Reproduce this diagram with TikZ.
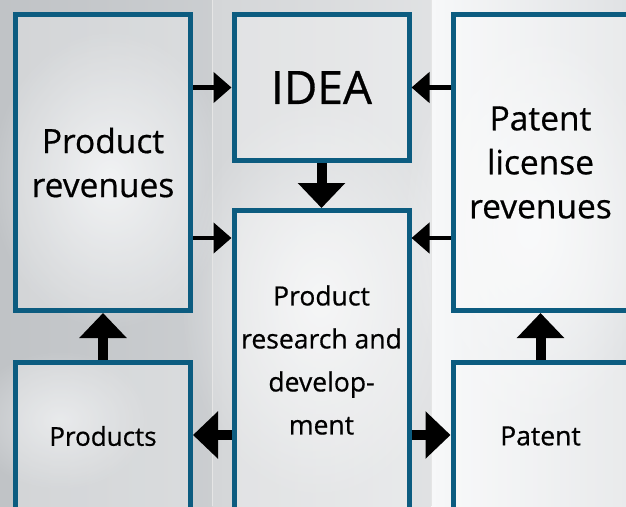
\documentclass[tikz,border=0pt]{standalone}
\usepackage{fontspec}
\setmainfont{Open Sans}[FakeBold=0.6]
\usetikzlibrary{arrows.meta,calc,fadings}
\tikzfading[name=soft spot, inner color=transparent!0, outer color=transparent!100]
\definecolor{frame}{RGB}{12,92,128}
\definecolor{panelA}{RGB}{192,195,198}
\definecolor{panelAl}{RGB}{236,238,240}
\definecolor{panelB}{RGB}{212,214,216}
\definecolor{panelBl}{RGB}{242,243,244}
\definecolor{panelC}{RGB}{224,226,228}
\definecolor{panelCl}{RGB}{247,248,249}
\begin{document}
\begin{tikzpicture}[x=1pt,y=-1pt,
  box/.style={draw=frame, line width=5pt, fill=white, fill opacity=0.3,
    text opacity=1, align=center, inner sep=0pt, minimum width=175pt},
  thin arrow/.style={line width=4.5pt, -{Triangle[width=30pt,length=18pt]}},
  thick arrow/.style={line width=10pt, -{Triangle[width=46pt,length=25pt]}},
]
\useasboundingbox (0,0) rectangle (626,506);
\begin{scope}
  \clip (0,0) rectangle (626,506);
  % three silvery background panels with soft highlights
  \shade[left color=panelA, right color=panelA!75!panelAl] (0,0) rectangle (212,506);
  \fill[panelAl, path fading=soft spot] (110,180) ellipse[x radius=120, y radius=150];
  \fill[panelAl, path fading=soft spot, opacity=0.7] (60,420) ellipse[x radius=90, y radius=70];
  \shade[left color=panelB, right color=panelB!60!panelBl] (212,0) rectangle (431,506);
  \fill[panelBl, path fading=soft spot] (320,300) ellipse[x radius=140, y radius=200];
  \shade[left color=panelCl, right color=panelC] (431,0) rectangle (626,506);
  \fill[panelCl, path fading=soft spot] (530,230) ellipse[x radius=130, y radius=200];
  \draw[white!80!gray, line width=0.6pt] (212,0) -- (212,506) (431,0) -- (431,506);

  % boxes
  \node[box, minimum height=296pt, font=\fontsize{33.5}{44}\selectfont] (pr) at (103,162.5) {Product\\revenues};
  \node[box, minimum height=146pt, font=\fontsize{46}{50}\selectfont] (idea) at (321.5,87.5) {IDEA};
  \node[box, minimum height=296pt, font=\fontsize{33.5}{44}\selectfont] (plr) at (540.5,162.5) {Patent\\license\\revenues};
  \node[box, minimum height=299pt, font=\fontsize{26.5}{43}\selectfont] (rd) at (321.5,360) {Product\\research and\\develop-\\ment};
  \node[box, minimum height=147pt, font=\fontsize{26}{30}\selectfont] (prods) at (103,436) {Products};
  \node[box, minimum height=147pt, font=\fontsize{26.5}{30}\selectfont] (pat) at (540.5,436) {Patent};

  % connectors
  \coordinate (r2) at (0,238);
  \coordinate (r3) at (0,435);
  \draw[thin arrow] (pr.east |- idea.west) -- (idea.west);
  \draw[thin arrow] (plr.west |- idea.east) -- (idea.east);
  \draw[thin arrow] (pr.east |- r2) -- (rd.west |- r2);
  \draw[thin arrow] (plr.west |- r2) -- (rd.east |- r2);
  \draw[thick arrow] (idea.south) -- (rd.north);
  \draw[thick arrow] (prods.north) -- (pr.south);
  \draw[thick arrow] (pat.north) -- (plr.south);
  \draw[thick arrow] (rd.west |- r3) -- (prods.east |- r3);
  \draw[thick arrow] (rd.east |- r3) -- (pat.west |- r3);
\end{scope}
\end{tikzpicture}
\end{document}
